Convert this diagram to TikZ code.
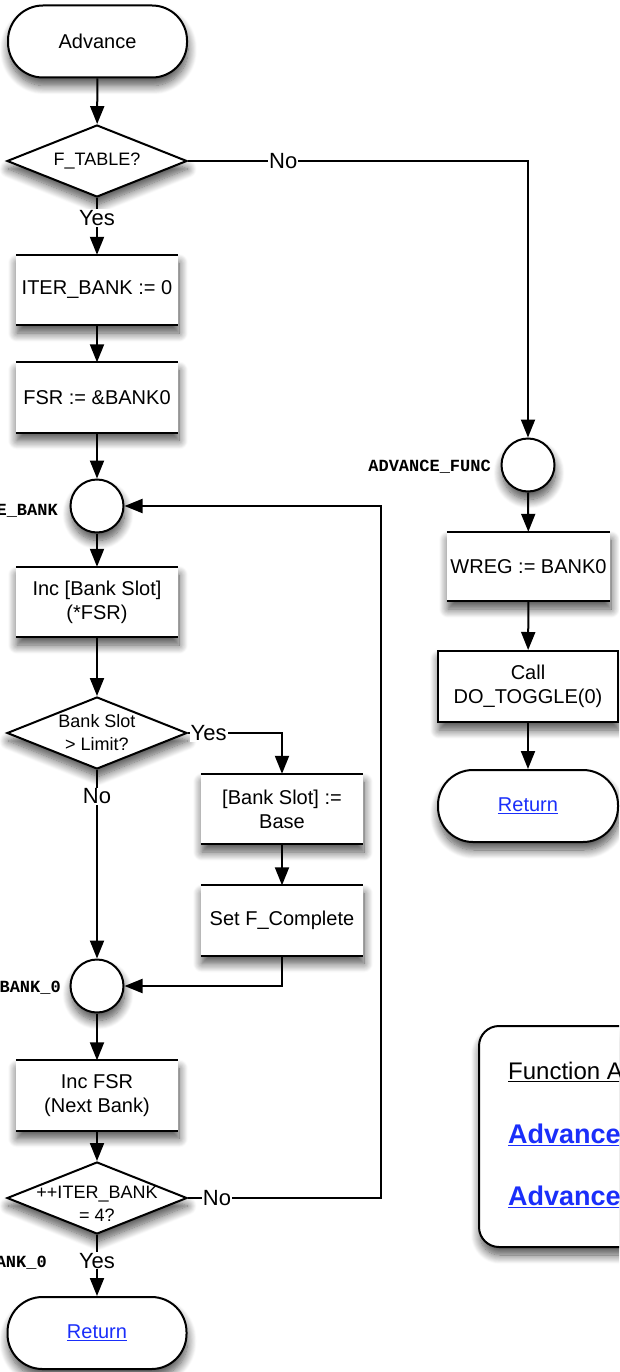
\documentclass[tikz,border=0pt]{standalone}
\usepackage{fontspec}
\setmainfont{Liberation Sans}
\newfontfamily\codefont{Liberation Mono}
\usetikzlibrary{shapes.geometric, arrows.meta, shadows.blur}
\definecolor{linkblue}{RGB}{26,46,250}

\begin{document}
\begin{tikzpicture}[x=1pt, y=-1pt,
  soft/.style={blur shadow={shadow xshift=1pt, shadow yshift=-8pt,
      shadow blur radius=9pt, shadow blur steps=12, shadow opacity=70}},
  flow/.style={line width=2pt, -{Triangle[length=18pt,width=14pt]}},
  wire/.style={line width=2pt},
  terminal/.style={rectangle, rounded corners=35pt, draw, line width=2pt,
      fill=white, minimum width=179pt, minimum height=72pt, soft,
      font=\fontsize{20}{24}\selectfont},
  stepbox/.style={rectangle, fill=white, minimum width=162pt,
      minimum height=70pt, soft, align=center,
      font=\fontsize{20}{24}\selectfont},
  declabel/.style={align=center, inner sep=0pt, font=\fontsize{18}{23}\selectfont},
  decision/.style={diamond, draw, line width=2pt, fill=white, aspect=2.5,
      minimum width=180pt, minimum height=72pt, inner sep=0pt, soft,
      label={[declabel]center:#1}},
  junction/.style={circle, draw, line width=2pt, fill=white,
      minimum size=53pt, inner sep=0pt, soft},
  lbl/.style={fill=white, inner sep=1pt, font=\fontsize{22}{24}\selectfont},
  tag/.style={anchor=east, inner sep=0pt,
      font=\codefont\bfseries\fontsize{17}{20}\selectfont},
  link/.style={text=linkblue}]

\useasboundingbox (0,0) rectangle (619,1372);
\clip (0,0) rectangle (619,1372);

% main column
\node[terminal] (start) at (97.5,41.5) {Advance};
\node[decision={F\_TABLE?}] (ftable) at (97,161) {};
\node[stepbox] (iterzero) at (97,290) {ITER\_BANK := 0};
\node[stepbox] (fsr) at (97,397.5) {FSR := \&BANK0};
\node[junction] (loop) at (97,506) {};
\node[tag] (looptag) at (58,511) {E\_BANK};
\node[stepbox] (incslot) at (97,602) {Inc [Bank Slot]\\(*FSR)};
\node[decision={Bank Slot\\> Limit?}] (slotchk) at (97,733) {};
\node[stepbox] (reset) at (282,809) {[Bank Slot] :=\\Base};
\node[stepbox] (setf) at (282,920.5) {Set F\_Complete};
\node[junction] (join) at (97,986) {};
\node[tag] (jointag) at (61,988) {BANK\_0};
\node[stepbox] (incfsr) at (97,1095.5) {Inc FSR\\(Next Bank)};
\begin{scope}[declabel/.append style={yshift=-6pt}]
  \node[decision={++ITER\_BANK\\= 4?}] (iterchk) at (97,1198) {};
\end{scope}
\node[tag] (endtag) at (47,1263) {ANK\_0};
\node[terminal] (ret) at (97,1333) {\textcolor{linkblue}{\underline{Return}}};

% ADVANCE_FUNC column
\node[junction] (advf) at (528,465) {};
\node[tag] (advftag) at (491,467) {ADVANCE\_FUNC};
\node[stepbox, minimum width=163pt, minimum height=69pt] (wreg) at (528.5,566.5) {WREG := BANK0};
\node[stepbox, draw, line width=2pt, minimum width=180pt, minimum height=71pt] (call) at (528,686.5) {Call\\DO\_TOGGLE(0)};
\node[terminal, minimum width=180pt] (ret2) at (528,806) {\textcolor{linkblue}{\underline{Return}}};

% function index panel
\node[draw, line width=2pt, fill=white, rounded corners=20pt, soft,
      minimum width=260pt, minimum height=221pt, anchor=north west] (panel) at (478,1025) {};
\node[anchor=west, inner sep=0pt, font=\fontsize{24}{28}\selectfont] (ptitle) at (508,1072) {\underline{Function A}};
\node[anchor=west, inner sep=0pt, font=\bfseries\fontsize{27}{30}\selectfont, link] (plink1) at (508,1135) {\underline{Advance}};
\node[anchor=west, inner sep=0pt, font=\bfseries\fontsize{27}{30}\selectfont, link] (plink2) at (508,1197) {\underline{Advance}};

% process boxes: rules above and below
\foreach \b in {iterzero,fsr,incslot,reset,setf,incfsr,wreg}
  \draw[wire] (\b.north west) -- (\b.north east) (\b.south west) -- (\b.south east);

% connectors
\draw[flow] (start) -- (ftable);
\draw[flow] (ftable) -- node[lbl, pos=0.35] {Yes} (iterzero);
\draw[flow] (iterzero) -- (fsr);
\draw[flow] (fsr) -- (loop);
\draw[flow] (loop) -- (incslot);
\draw[flow] (incslot) -- (slotchk);
\draw[flow] (slotchk.east) -| node[lbl, pos=0.11] {Yes} (reset.north);
\draw[flow] (reset) -- (setf);
\draw[flow] (setf.south) |- (join.east);
\draw[flow] (slotchk) -- node[lbl, pos=0.14] {No} (join);
\draw[flow] (join) -- (incfsr);
\draw[flow] (incfsr) -- (iterchk);
\draw[flow] (iterchk) -- node[lbl, pos=0.42] {Yes} (ret);
\coordinate (backcorner) at (381,1198);
\draw[flow] (iterchk.east) -- node[lbl, pos=0.15] {No} (backcorner) |- (loop.east);
\draw[flow] (ftable.east) -| node[lbl, pos=0.14] {No} (advf.north);
\draw[flow] (advf) -- (wreg);
\draw[flow] (wreg) -- (call);
\draw[flow] (call) -- (ret2);

\end{tikzpicture}
\end{document}
